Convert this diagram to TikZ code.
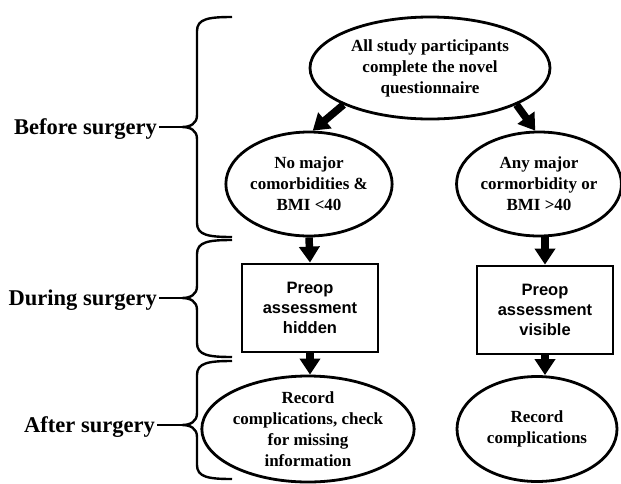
\documentclass[tikz,border=0pt]{standalone}
\usepackage{fontspec}
\setmainfont{Liberation Serif}
\setsansfont{Liberation Sans}
\usetikzlibrary{shapes.geometric,arrows.meta}
\newcommand\phasebrace[4]{%
 \coordinate (#1) at (182,#3);
 \draw[bracel] (232,#2) .. controls (208,#2) and (197,{#2+2}) .. (197,{#2+14}) -- (197,{#3-12}) .. controls (197,{#3-3}) and (190,#3) .. (#1) .. controls (190,#3) and (197,{#3+3}) .. (197,{#3+12}) -- (197,{#4-14}) .. controls (197,{#4-2}) and (208,#4) .. (232,#4);}
\begin{document}
\begin{tikzpicture}[x=1pt,y=-1pt,
  oval/.style={ellipse,draw,line width=2.8pt,inner sep=0pt,align=center,font=\bfseries\fontsize{17}{21}\selectfont},
  stepbox/.style={rectangle,draw,line width=2.8pt,minimum width=136pt,minimum height=88pt,align=center,font=\sffamily\bfseries\fontsize{16.5}{20}\selectfont},
  bigarrow/.style={line width=7.5pt,-{Triangle[width=20pt,length=16pt]}},
  phase/.style={font=\bfseries\fontsize{22.5}{26}\selectfont,anchor=base east,inner sep=0pt},
  bracel/.style={line width=2.4pt}]
\useasboundingbox (0,0) rectangle (621,483);
\node[oval,minimum width=240pt,minimum height=102pt] (top) at (430,68) {All study participants\\complete the novel\\questionnaire};
\node[oval,minimum width=162pt,minimum height=104pt] (lE) at (309,184) {No major\\comorbidities \&\\BMI <40};
\node[oval,minimum width=162pt,minimum height=104pt] (rE) at (539,184) {Any major\\cormorbidity or\\BMI >40};
\node[stepbox] (lB) at (310,308) {Preop\\assessment\\hidden};
\node[stepbox] (rB) at (545,310) {Preop\\assessment\\visible};
\node[oval,minimum width=164pt,minimum height=105pt] (lR) at (308,429) {Record\\complications, check\\for missing\\information};
\node[oval,minimum width=160pt,minimum height=105pt] (rR) at (537,429) {Record\\complications};
\draw[bigarrow] (top.203) -- (lE.86);
\draw[bigarrow] (top.337) -- (rE.94);
\draw[bigarrow] (lE.south) -- (lB.north);
\draw[bigarrow] (rE.south -| rB.north) -- (rB.north);
\draw[bigarrow] (lB.south) -- (lR.north -| lB.south);
\draw[bigarrow] (rB.south) -- (rR.north -| rB.south);
\phasebrace{bt1}{17}{127}{237}
\phasebrace{bt2}{240}{298}{357}
\phasebrace{bt3}{361}{425}{479}
\node[phase] (bs) at (157,134) {Before surgery};
\node[phase] (ds) at (157,305) {During surgery};
\node[phase] (as) at (155,432) {After surgery};
\draw[bracel] ([xshift=2pt]bs.east |- bt1) -- (bt1);
\draw[bracel] ([xshift=2pt]ds.east |- bt2) -- (bt2);
\draw[bracel] ([xshift=2pt]as.east |- bt3) -- (bt3);
\end{tikzpicture}
\end{document}
